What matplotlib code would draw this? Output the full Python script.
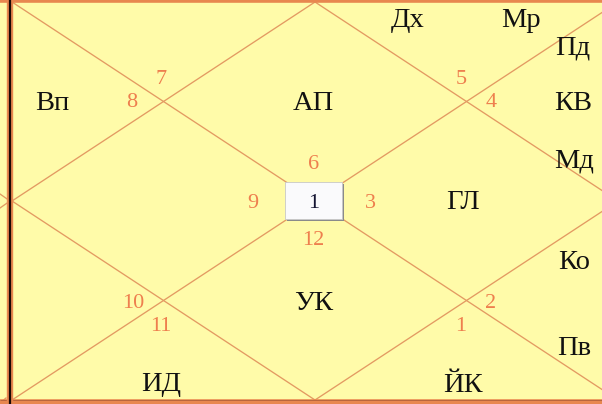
import matplotlib
matplotlib.use("Agg")
import matplotlib.pyplot as plt
from matplotlib.patches import Rectangle

# ---------------- data ----------------
houses = list(range(1, 13))
signs = [6, 7, 8, 9, 10, 11, 12, 1, 2, 3, 4, 5]          # sign number in each house
planets = {
    1: ["АП"], 2: [], 3: ["Вп"], 4: [], 5: [], 6: ["ИД"],
    7: ["УК"], 8: ["ЙК"], 9: ["Ко", "Пв"], 10: ["ГЛ"],
    11: ["Пд", "КВ", "Мд"], 12: ["Дх", "Мр"],
}
center_label = "1"

# ---------------- layout (fractions of the chart square) ----------------
sign_pos = {
    1: (0.497, 0.402), 2: (0.246, 0.188), 3: (0.198, 0.246), 4: (0.398, 0.500),
    5: (0.200, 0.751), 6: (0.246, 0.809), 7: (0.497, 0.593), 8: (0.741, 0.809),
    9: (0.790, 0.751), 10: (0.592, 0.500), 11: (0.790, 0.246), 12: (0.741, 0.188),
}
planet_pos = {
    "АП": (0.497, 0.249), "Вп": (0.066, 0.249), "ИД": (0.246, 0.955),
    "УК": (0.497, 0.751), "ЙК": (0.744, 0.957), "Ко": (0.927, 0.648),
    "Пв": (0.927, 0.864), "ГЛ": (0.744, 0.497), "Пд": (0.926, 0.108),
    "КВ": (0.926, 0.249), "Мд": (0.927, 0.392), "Дх": (0.653, 0.040),
    "Мр": (0.840, 0.040),
}

W_PX, H_PX = 602, 404
X0, Y0, X1, Y1 = 12, 2, 618, 400
BG = "#FFFBA9"
LINE = "#E39A62"
BORDER = "#E8874F"
NUM = "#EE7F4E"
FONT = "Liberation Serif"
LABEL_PT = 20.5
NUM_PT = 16

fig = plt.figure(figsize=(W_PX / 100, H_PX / 100), dpi=100)
fig.patch.set_facecolor(BG)
ax = fig.add_axes([0, 0, 1, 1])
ax.set_xlim(0, W_PX)
ax.set_ylim(H_PX, 0)
ax.axis("off")
ax.set_facecolor(BG)

def to_px(u, v):
    return X0 + u * (X1 - X0), Y0 + v * (Y1 - Y0)

cx, cy = to_px(0.5, 0.5)
mx = (X0 + X1) / 2

# chart lines
lw = 0.95
ax.plot([X0, X1], [Y0, Y1], color=LINE, lw=lw, zorder=1)
ax.plot([X0, X1], [Y1, Y0], color=LINE, lw=lw, zorder=1)
ax.plot([mx, X0, mx, X1, mx], [Y0, cy, Y1, cy, Y0], color=LINE, lw=lw, zorder=1)
# fragment of neighbouring chart on the left
ax.plot([0, X0 - 2, 0], [cy - 7, cy, cy + 7], color=LINE, lw=lw, zorder=1)
ax.plot([0, 6], [403, 398], color=LINE, lw=lw, zorder=1)

# borders
ax.plot([0, W_PX], [1.2, 1.2], color=BORDER, lw=2.6, zorder=3, solid_capstyle="butt")
ax.plot([0, W_PX], [401.5, 401.5], color=BORDER, lw=4, zorder=3, solid_capstyle="butt")
ax.plot([0, W_PX], [399.5, 399.5], color="#B0603A", lw=0.6, zorder=3, solid_capstyle="butt")
ax.plot([10, 10], [0, H_PX], color=BORDER, lw=4.6, zorder=4, solid_capstyle="butt")
ax.plot([10, 10], [0, H_PX], color="#1A0A05", lw=1.6, zorder=5, solid_capstyle="butt")

# centre box with shadow
bx0, by0, bx1, by1 = 285, 182, 342, 219
ax.add_patch(Rectangle((bx0 + 2, by0 + 2), bx1 - bx0, by1 - by0,
                       facecolor="#8A8A8A", edgecolor="none", zorder=6))
ax.add_patch(Rectangle((bx0, by0), bx1 - bx0, by1 - by0,
                       facecolor="#FAFAFC", edgecolor="#C8C8C8", lw=0.6, zorder=7))

def put(txt, x, y, pt, color, zorder=8):
    px = pt * 100 / 72
    ax.text(x, y + 0.33 * px, txt, fontsize=pt, color=color, family=FONT,
            ha="center", va="baseline", zorder=zorder)

put(center_label, (bx0 + bx1) / 2, (by0 + by1) / 2, NUM_PT, "#141432", zorder=9)

for h, s in zip(houses, signs):
    x, y = to_px(*sign_pos[h])
    put(str(s), x, y, NUM_PT, NUM)

for h in houses:
    for p in planets[h]:
        x, y = to_px(*planet_pos[p])
        put(p, x, y, LABEL_PT, "#111111")

fig.savefig("out.png", dpi=100, facecolor=BG)
